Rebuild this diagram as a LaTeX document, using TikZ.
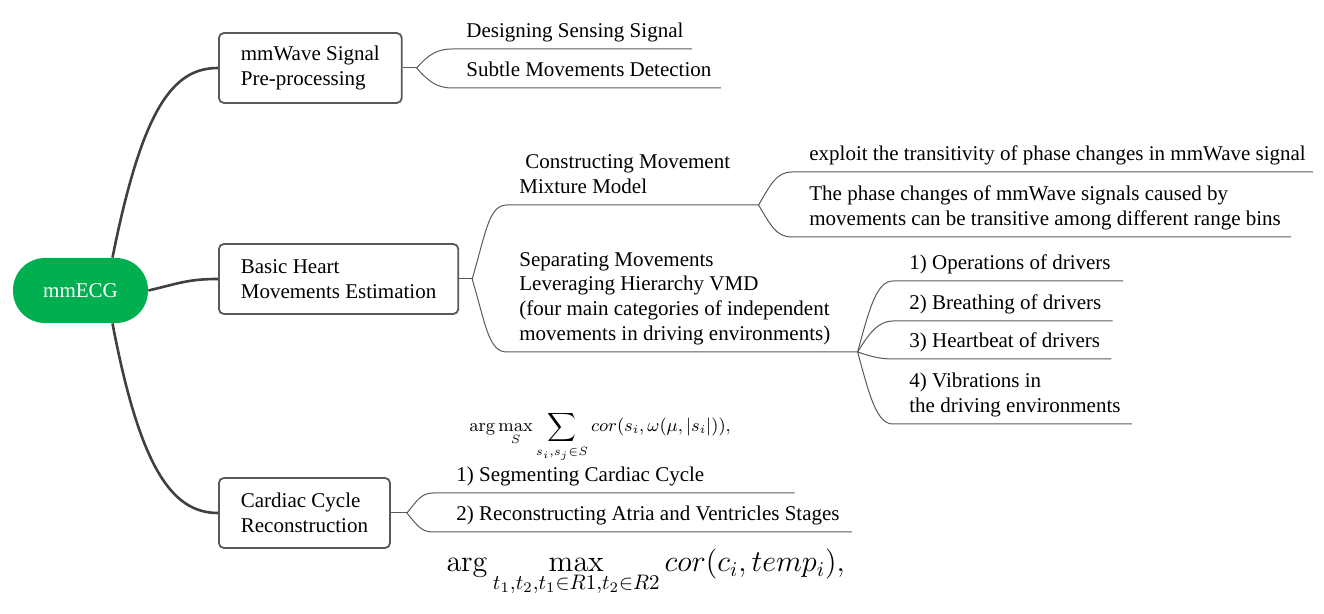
\documentclass[tikz,border=0pt]{standalone}
\usepackage{graphicx}
\usepackage[no-math]{fontspec}
\setmainfont{Liberation Serif}
\definecolor{ecggreen}{RGB}{0,176,80}
\definecolor{linegray}{RGB}{64,64,64}
\definecolor{boxgray}{RGB}{89,89,89}
\tikzset{
  root/.style={fill=ecggreen, text=white, rounded corners=16pt, minimum width=67.5pt, minimum height=32.5pt},
  topic/.style={draw=boxgray, line width=0.9pt, rounded corners=2.5pt, align=left, anchor=west, inner xsep=11pt, minimum height=35pt},
  leaf/.style={anchor=south west, align=left, inner sep=0pt, text depth=5.5pt},
  limb/.style={draw=linegray, line width=1.3pt},
  twig/.style={draw=boxgray, line width=0.5pt},
}
\begin{document}
\begin{tikzpicture}[x=0.5pt,y=-0.5pt,font=\fontsize{10.5}{12.4}\selectfont]
\useasboundingbox (0,0) rectangle (1324,614);
% root and the three main topics
\node[root] (ecg) at (80.5,290.5) {mmECG};
\node[topic] (pre) at (218,68) {mmWave Signal\\Pre-processing};
\node[topic] (est) at (218,279) {Basic Heart\\Movements Estimation};
\node[topic] (card) at (218,513) {Cardiac Cycle\\Reconstruction};
\draw[limb] ([xshift=16pt]ecg.north) .. controls +(30,-150) and +(-45,0) .. (pre.west);
\draw[limb] (ecg.east) .. controls +(30,-7) and +(-30,0) .. (est.west);
\draw[limb] ([xshift=16pt]ecg.south) .. controls +(28,147) and +(-45,0) .. (card.west);

% pre-processing
\draw[twig] (pre.east) -- ++(14,0) coordinate (b1);
\node[leaf] (l1a) at (466,49) {Designing Sensing Signal};
\node[leaf] (l1b) at (466,88) {Subtle Movements Detection};
\draw[twig] (b1) .. controls +(12,-14) and +(-14,0) .. ([xshift=-7pt]l1a.south west) -- ([xshift=4pt]l1a.south east);
\draw[twig] (b1) .. controls +(12,14) and +(-14,0) .. ([xshift=-7pt]l1b.south west) -- ([xshift=4.5pt]l1b.south east);

% movements estimation
\draw[twig] (est.east) -- ++(13,0) coordinate (b2);
\node[leaf] (l2a) at (519,205) {\hspace*{3pt}Constructing Movement\\Mixture Model};
\node[leaf] (l2b) at (519,352) {Separating Movements\\Leveraging Hierarchy VMD\\(four main categories of independent\\movements in driving environments)};
\draw[twig] (b2) .. controls +(14,-48) and +(-18,0) .. ([xshift=-6pt]l2a.south west) -- ([xshift=14pt]l2a.south east) coordinate (c2);
\draw[twig] (b2) .. controls +(14,48) and +(-18,0) .. ([xshift=-6pt]l2b.south west) -- ([xshift=13.5pt]l2b.south east) coordinate (c3);

\node[leaf] (l3a) at (809,172) {exploit the transitivity of phase changes in mmWave signal};
\node[leaf] (l3b) at (809,237) {The phase changes of mmWave signals caused by\\movements can be transitive among different range bins};
\draw[twig] (c2) .. controls +(12,-20) and +(-16,0) .. ([xshift=-8.5pt]l3a.south west) -- ([xshift=3.5pt]l3a.south east);
\draw[twig] (c2) .. controls +(12,20) and +(-16,0) .. ([xshift=-8.5pt]l3b.south west) -- ([xshift=5pt]l3b.south east);

\node[leaf] (l4a) at (909,281) {1) Operations of drivers};
\node[leaf] (l4b) at (909,321) {2) Breathing of drivers};
\node[leaf] (l4c) at (909,359) {3) Heartbeat of drivers};
\node[leaf] (l4d) at (909,424) {4) Vibrations in\\the driving environments};
\draw[twig] (c3) .. controls +(12,-45) and +(-16,0) .. ([xshift=-8pt]l4a.south west) -- ([xshift=6pt]l4a.south east);
\draw[twig] (c3) .. controls +(12,-20) and +(-14,0) .. ([xshift=-8pt]l4b.south west) -- ([xshift=5.5pt]l4b.south east);
\draw[twig] (c3) .. controls +(12,4) and +(-14,0) .. ([xshift=-8pt]l4c.south west) -- ([xshift=5.5pt]l4c.south east);
\draw[twig] (c3) .. controls +(12,45) and +(-16,0) .. ([xshift=-8pt]l4d.south west) -- ([xshift=5.5pt]l4d.south east);

% cardiac cycle
\draw[twig] (card.east) -- ++(16,0) coordinate (b3);
\node[leaf] (l5a) at (456,493) {1) Segmenting Cardiac Cycle};
\node[leaf] (l5b) at (456,532) {2) Reconstructing Atria and Ventricles Stages};
\draw[twig] (b3) .. controls +(10,-12) and +(-12,0) .. ([xshift=-11.5pt]l5a.south west) -- ([xshift=45pt]l5a.south east);
\draw[twig] (b3) .. controls +(10,12) and +(-12,0) .. ([xshift=-11.5pt]l5b.south west) -- ([xshift=6pt]l5b.south east);

% formulas
\node[anchor=base west, inner sep=0pt, font=\fontsize{9}{11}\selectfont] (f1) at (469,432) {$\displaystyle \arg\max_{S}\sum_{s_i,s_j\in S} cor(s_i,\omega(\mu,|s_i|)),$};
\node[anchor=base west, inner sep=0pt, font=\fontsize{14.4}{18}\selectfont] (f2) at (446,572) {\scalebox{1.05}{$\displaystyle \arg\max_{t_1,t_2,t_1\in R1,t_2\in R2} cor(c_i,temp_i),$}};
\end{tikzpicture}
\end{document}
